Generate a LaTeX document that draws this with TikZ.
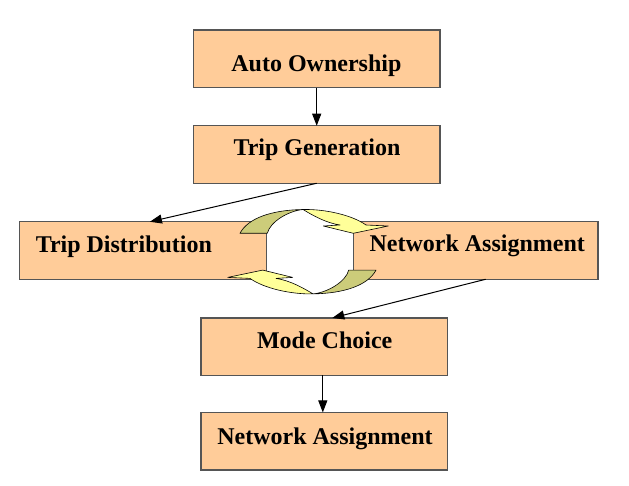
\documentclass[tikz,border=0pt]{standalone}
\usepackage{fontspec}
\setmainfont{Liberation Serif}
\usetikzlibrary{arrows.meta}
\definecolor{boxfill}{RGB}{255,204,153}
\definecolor{boxline}{RGB}{85,85,85}
\definecolor{olivearrow}{RGB}{204,204,122}
\definecolor{yellowarrow}{RGB}{255,255,153}
\tikzset{
  stagebox/.style={draw=boxline, line width=1.2pt, fill=boxfill, rectangle,
    minimum height=57.5pt, inner sep=0pt, outer sep=0pt},
  stagetext/.style={anchor=base, inner sep=0pt,
    font=\fontsize{24pt}{28pt}\selectfont\bfseries},
  flow/.style={draw=black, line width=1pt, -{Triangle[length=12pt,width=9pt]}},
  ringpart/.style={draw=black, line width=0.6pt, line join=round}
}
\begin{document}
\begin{tikzpicture}[x=1pt,y=-1pt]
\useasboundingbox (0,0) rectangle (629,486);
% boxes
\node[stagebox, minimum width=246.7pt] (ao) at (316.7,58.8) {};
\node[stagebox, minimum width=246.7pt] (tg) at (316.7,154.5) {};
\node[stagebox, minimum width=247.2pt] (td) at (142.9,250.5) {};
\node[stagebox, minimum width=244.7pt] (na) at (475.7,250.5) {};
\node[stagebox, minimum width=246.7pt] (mc) at (324.3,346.7) {};
\node[stagebox, minimum width=246.7pt] (nb) at (324.3,441.2) {};
% texts
\node[stagetext] (aot) at (316.4,71.7) {Auto Ownership};
\node[stagetext] (tgt) at (317,156) {Trip Generation};
\node[stagetext] (tdt) at (123.9,252.3) {Trip Distribution};
\node[stagetext] (nat) at (477.2,251.7) {Network Assignment};
\node[stagetext] (mct) at (324.7,348.7) {Mode Choice};
\node[stagetext] (nbt) at (325,444.3) {Network Assignment};
% connectors
\draw[flow] (ao.south) -- (tg.north);
\draw[flow] (tg.south) -- ([xshift=7pt]td.north);
\draw[flow] ([xshift=10pt]na.south) -- ([xshift=8pt]mc.north);
\draw[flow] ([xshift=-1.5pt]mc.south) -- ([xshift=-1.5pt]nb.north);
% circular arrows (top one, then the same turned half round)
\foreach \ang in {0,180}{
\begin{scope}[rotate around={\ang:(308,251.7)}]
  \draw[ringpart, fill=olivearrow]
    (240,233.3) .. controls (248,218) and (272,210) .. (303,209.5)
    .. controls (288,211) and (270,222) .. (267.3,233.3) -- cycle;
  \draw[ringpart, fill=yellowarrow]
    (303,209.5) .. controls (325,209) and (352,215) .. (366,225)
    -- (388.3,226) -- (353.3,233.3) -- (323.3,226) -- (340,225)
    .. controls (326,223) and (312,215) .. (303,209.5) -- cycle;
\end{scope}
}
\end{tikzpicture}
\end{document}
